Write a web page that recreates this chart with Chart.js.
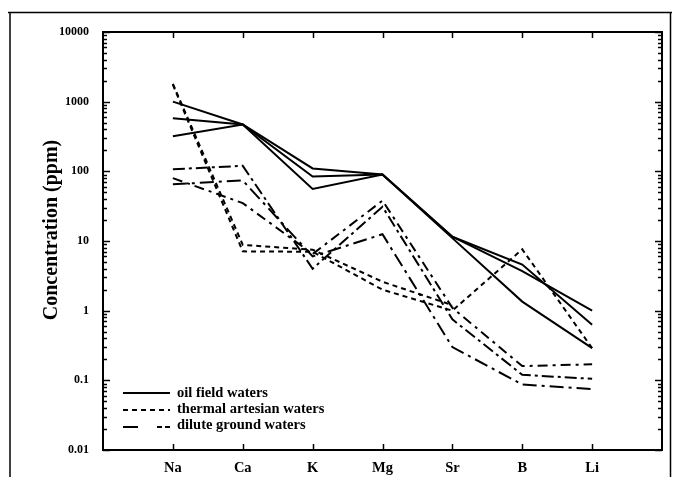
<!DOCTYPE html>
<html>
<head>
<meta charset="utf-8">
<script src="https://cdn.jsdelivr.net/npm/chart.js@4.4.1/dist/chart.umd.min.js"></script>
<style>
  html, body { margin: 0; padding: 0; background: #fff; }
  #wrap { width: 674px; height: 477px; position: relative; }
</style>
</head>
<body>
<div id="wrap"><canvas id="c" width="674" height="477"></canvas></div>
<script>
// ---- data ----
const categories = ['Na', 'Ca', 'K', 'Mg', 'Sr', 'B', 'Li'];

const oil1 = [1000, 470, 110, 90, 11.5, 4.6, 0.63];
const oil2 = [580, 470, 84, 90, 11.5, 3.7, 1.0];
const oil3 = [320, 470, 56, 90, 11, 1.35, 0.29];

const thermal1 = [1800, 8.8, 7.5, 2.6, 1.2, null, null];
const thermal2 = [1750, 7.1, 7.0, 2.0, 1.0, 7.6, 0.29];

const dilute1 = [107, 120, 4.0, 31, 0.75, 0.12, 0.105];
const dilute2 = [80, 35, 6.5, 38, 1.1, 0.16, 0.17];
const dilute3 = [65, 74, 6.0, 12.5, 0.3, 0.087, 0.075];

const yTickValues = [0.01, 0.1, 1, 10, 100, 1000, 10000];
const yTickLabels = ['0.01', '0.1', '1', '10', '100', '1000', '10000'];

const legendLabels = ['oil field waters', 'thermal artesian waters', 'dilute ground waters'];
const yTitle = 'Concentration (ppm)';

// ---- styles ----
const FONT = "'Liberation Serif', 'Times New Roman', serif";
const solidDash = [];
const thermalDash = [5, 4];
const diluteDashes = [[12, 4, 3, 4], [10, 5, 3, 5], [14, 5, 3, 5]];
const legendDilute = [15, 19, 5, 3, 5, 200];

const xLabels = [''].concat(categories).concat(['']);
function toPoints(arr) {
  return arr.map((v, i) => ({ x: categories[i], y: v })).filter(p => p.y !== null);
}
function ds(arr, dash, w) {
  return {
    data: toPoints(arr),
    borderColor: '#000',
    borderWidth: w,
    borderDash: dash,
    pointRadius: 0,
    tension: 0,
    fill: false
  };
}

const datasets = [
  ds(oil1, solidDash, 2), ds(oil2, solidDash, 2), ds(oil3, solidDash, 2),
  ds(thermal1, thermalDash, 2), ds(thermal2, thermalDash, 2),
  ds(dilute1, diluteDashes[0], 2), ds(dilute2, diluteDashes[1], 2), ds(dilute3, diluteDashes[2], 2)
];

function minorValues() {
  const out = [];
  for (let e = -2; e <= 3; e++) {
    for (let m = 1; m <= 9; m++) out.push(Number((m * Math.pow(10, e)).toPrecision(3)));
  }
  out.push(10000);
  return out;
}

const decor = {
  id: 'decor',
  afterDraw(chart) {
    const { ctx, chartArea: a, scales } = chart;
    const x = scales.x, y = scales.y;
    function line(x1, y1, x2, y2) { ctx.beginPath(); ctx.moveTo(x1, y1); ctx.lineTo(x2, y2); ctx.stroke(); }
    ctx.save();
    ctx.strokeStyle = '#000';
    ctx.setLineDash([]);
    // outer page frame
    ctx.lineWidth = 1.5;
    line(8, 12.5, 672, 12.5);
    line(10, 12, 10, 477);
    line(670.5, 12, 670.5, 477);
    // plot frame
    ctx.lineWidth = 2;
    ctx.strokeRect(a.left, a.top, a.right - a.left, a.bottom - a.top);
    // y ticks (inward, both sides)
    ctx.lineWidth = 1.5;
    const decs = new Set(yTickValues);
    minorValues().forEach(v => {
      const py = Math.round(y.getPixelForValue(v)) + 0.5;
      const len = decs.has(v) ? 7 : 4;
      line(a.left, py, a.left + len, py);
      line(a.right, py, a.right - len, py);
    });
    // x ticks at categories (inward, top and bottom)
    categories.forEach(c => {
      const px = Math.round(x.getPixelForValue(c)) + 0.5;
      line(px, a.bottom, px, a.bottom - 6);
      line(px, a.top, px, a.top + 6);
    });
    // y title
    ctx.fillStyle = '#000';
    ctx.font = 'bold 20px ' + FONT;
    ctx.textAlign = 'center';
    ctx.textBaseline = 'middle';
    ctx.save();
    ctx.translate(52, 230);
    ctx.rotate(-Math.PI / 2);
    ctx.fillText(yTitle, 0, 0);
    ctx.restore();
    // legend
    const rows = [393, 410, 427];
    const dashes = [solidDash, thermalDash, legendDilute];
    ctx.lineWidth = 2;
    rows.forEach((ry, i) => {
      ctx.setLineDash(dashes[i]);
      line(123, ry, 170, ry);
    });
    ctx.setLineDash([]);
    ctx.font = 'bold 14.5px ' + FONT;
    ctx.textAlign = 'left';
    ctx.textBaseline = 'alphabetic';
    const base = [397, 413, 429];
    legendLabels.forEach((t, i) => ctx.fillText(t, 177, base[i]));
    ctx.restore();
  }
};

new Chart(document.getElementById('c'), {
  type: 'line',
  data: { labels: xLabels, datasets },
  options: {
    responsive: false,
    animation: false,
    devicePixelRatio: 1,
    layout: { padding: { top: 32, right: 12, left: 0, bottom: 0 } },
    plugins: { legend: { display: false }, tooltip: { enabled: false } },
    scales: {
      x: {
        type: 'category',
        offset: false,
        grid: { display: false },
        border: { display: false },
        ticks: {
          autoSkip: false, maxRotation: 0, color: '#000', padding: 2,
          font: { family: FONT, size: 14.5, weight: 'bold' }
        },
        afterFit(s) { s.height = 27; }
      },
      y: {
        type: 'logarithmic',
        min: 0.01, max: 10000,
        grid: { display: false },
        border: { display: false },
        afterBuildTicks(s) { s.ticks = yTickValues.map(v => ({ value: v })); },
        ticks: {
          autoSkip: false, color: '#000', padding: 6,
          font: { family: FONT, size: 12, weight: 'bold' },
          callback: (v, i) => yTickLabels[i]
        },
        afterFit(s) { s.width = 103; }
      }
    }
  },
  plugins: [decor]
});
</script>
</body>
</html>
